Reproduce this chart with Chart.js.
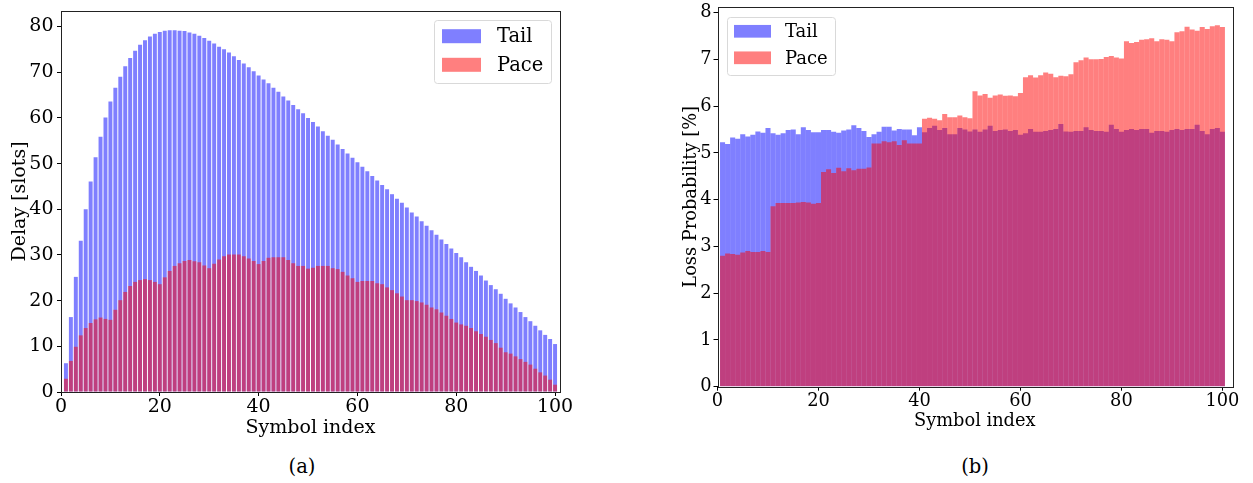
<!DOCTYPE html>
<html>
<head>
<meta charset="utf-8">
<script src="https://cdn.jsdelivr.net/npm/chart.js@4.4.1/dist/chart.umd.min.js"></script>
<style>
  body { margin: 0; background: #fff; width: 1253px; height: 483px; position: relative; overflow: hidden; font-family: "DejaVu Serif", serif; }
  canvas { position: absolute; top: 0; }
  .cap { position: absolute; font-size: 19.5px; transform: translate(-50%, -50%); color: #000; }
</style>
</head>
<body>
<canvas id="delayChart" width="620" height="450" style="left:0"></canvas>
<canvas id="lossChart" width="613" height="450" style="left:640px"></canvas>
<div class="cap" style="left:302px;top:466px">(a)</div>
<div class="cap" style="left:975px;top:466px">(b)</div>
<script>
const seriesNames = ["Tail", "Pace"];
const symbols = [
  1, 2, 3, 4, 5, 6, 7, 8, 9, 10, 11, 12, 13, 14, 15, 16, 17, 18, 19, 20,
  21, 22, 23, 24, 25, 26, 27, 28, 29, 30, 31, 32, 33, 34, 35, 36, 37, 38, 39, 40,
  41, 42, 43, 44, 45, 46, 47, 48, 49, 50, 51, 52, 53, 54, 55, 56, 57, 58, 59, 60,
  61, 62, 63, 64, 65, 66, 67, 68, 69, 70, 71, 72, 73, 74, 75, 76, 77, 78, 79, 80,
  81, 82, 83, 84, 85, 86, 87, 88, 89, 90, 91, 92, 93, 94, 95, 96, 97, 98, 99, 100
];
const xTicks = [0, 20, 40, 60, 80, 100];
const delayTicks = [0, 10, 20, 30, 40, 50, 60, 70, 80];
const lossTicks = [0, 1, 2, 3, 4, 5, 6, 7, 8];

// (a) delay in slots
const delayTail = [
  6.3, 16.4, 25.2, 33.1, 40.0, 46.1, 51.4, 55.9, 60.1, 63.6,
  66.6, 69.0, 71.3, 73.1, 74.7, 76.0, 77.0, 77.8, 78.4, 78.8,
  79.1, 79.2, 79.2, 79.1, 79.0, 78.7, 78.4, 78.0, 77.5, 76.9,
  76.3, 75.6, 75.0, 74.3, 73.5, 72.7, 71.9, 71.1, 70.2, 69.3,
  68.4, 67.6, 66.6, 65.7, 64.7, 63.8, 62.8, 61.9, 61.0, 60.0,
  59.1, 58.1, 57.1, 56.1, 55.2, 54.2, 53.2, 52.2, 51.3, 50.3,
  49.3, 48.3, 47.3, 46.3, 45.3, 44.4, 43.3, 42.3, 41.4, 40.4,
  39.3, 38.4, 37.4, 36.4, 35.4, 34.4, 33.4, 32.4, 31.4, 30.4,
  29.5, 28.4, 27.4, 26.5, 25.5, 24.4, 23.4, 22.5, 21.5, 20.4,
  19.4, 18.5, 17.5, 16.4, 15.5, 14.5, 13.5, 12.5, 11.6, 10.5
];
const delayPace = [
  2.9, 6.8, 9.9, 12.4, 14.0, 15.1, 15.9, 16.3, 16.0, 15.8,
  18.0, 20.1, 21.9, 23.2, 24.1, 24.5, 24.7, 24.5, 24.1, 23.6,
  25.1, 26.5, 27.6, 28.2, 28.7, 28.9, 28.6, 28.4, 27.7, 27.1,
  28.1, 29.0, 29.7, 30.1, 30.1, 30.1, 29.7, 29.2, 28.7, 28.0,
  28.7, 29.4, 29.5, 29.5, 29.5, 28.9, 28.2, 27.6, 27.6, 27.0,
  27.2, 27.6, 27.6, 27.6, 27.1, 26.9, 26.3, 25.5, 24.9, 24.1,
  24.3, 24.3, 24.3, 23.8, 23.6, 22.9, 22.3, 21.6, 20.9, 20.1,
  20.1, 19.9, 19.6, 19.1, 18.5, 18.1, 17.4, 16.7, 16.0, 15.2,
  14.8, 14.5, 14.0, 13.3, 12.7, 12.1, 11.4, 10.7, 9.7, 8.7,
  8.4, 7.8, 7.2, 6.6, 6.0, 5.1, 4.3, 3.6, 2.7, 1.6
];

// (b) loss probability in %
const lossTail = [
  5.23, 5.19, 5.33, 5.30, 5.40, 5.35, 5.39, 5.46, 5.43, 5.53,
  5.42, 5.39, 5.42, 5.49, 5.50, 5.40, 5.55, 5.49, 5.44, 5.44,
  5.49, 5.49, 5.45, 5.43, 5.48, 5.50, 5.59, 5.53, 5.47, 5.34,
  5.40, 5.45, 5.56, 5.56, 5.48, 5.51, 5.50, 5.50, 5.38, 5.55,
  5.44, 5.53, 5.58, 5.49, 5.53, 5.40, 5.40, 5.53, 5.50, 5.46,
  5.50, 5.45, 5.50, 5.58, 5.47, 5.49, 5.50, 5.47, 5.49, 5.39,
  5.42, 5.51, 5.45, 5.45, 5.47, 5.49, 5.51, 5.62, 5.46, 5.45,
  5.47, 5.47, 5.55, 5.49, 5.47, 5.47, 5.45, 5.60, 5.51, 5.45,
  5.49, 5.51, 5.49, 5.51, 5.51, 5.43, 5.47, 5.47, 5.45, 5.49,
  5.51, 5.49, 5.51, 5.51, 5.60, 5.47, 5.40, 5.51, 5.53, 5.45
];
const lossPace = [
  2.80, 2.85, 2.84, 2.82, 2.87, 2.90, 2.88, 2.88, 2.90, 2.88,
  3.86, 3.93, 3.93, 3.93, 3.93, 3.94, 3.95, 3.94, 3.91, 3.93,
  4.59, 4.65, 4.57, 4.68, 4.61, 4.67, 4.63, 4.66, 4.66, 4.69,
  5.20, 5.20, 5.25, 5.23, 5.25, 5.17, 5.27, 5.20, 5.20, 5.20,
  5.73, 5.75, 5.73, 5.70, 5.83, 5.76, 5.76, 5.80, 5.76, 5.74,
  6.32, 6.23, 6.26, 6.18, 6.23, 6.25, 6.22, 6.23, 6.21, 6.28,
  6.62, 6.66, 6.61, 6.66, 6.72, 6.69, 6.62, 6.65, 6.64, 6.68,
  6.94, 6.98, 7.04, 7.00, 7.00, 7.01, 7.05, 7.07, 7.04, 7.02,
  7.39, 7.35, 7.37, 7.42, 7.43, 7.45, 7.39, 7.43, 7.42, 7.39,
  7.58, 7.60, 7.70, 7.64, 7.61, 7.69, 7.65, 7.71, 7.73, 7.69
];

const tailColor = "rgba(0, 0, 255, 0.5)";
const paceColor = "rgba(255, 0, 0, 0.5)";

Chart.defaults.font.family = '"DejaVu Serif", serif';
Chart.defaults.color = "#000";

// box around the axes, like matplotlib spines
const frame = {
  id: "frame",
  afterDatasetsDraw(chart) {
    const { ctx, chartArea: a } = chart;
    ctx.save();
    ctx.strokeStyle = "#222";
    ctx.lineWidth = 1;
    ctx.strokeRect(Math.round(a.left) + 0.5, Math.round(a.top) + 0.5,
      Math.round(a.right - a.left), Math.round(a.bottom - a.top));
    ctx.restore();
  }
};

// legend box drawn inside the plot
const boxLegend = {
  id: "boxLegend",
  afterDraw(chart, args, o) {
    const ctx = chart.ctx;
    ctx.save();
    ctx.beginPath();
    ctx.roundRect(o.x + 0.5, o.y + 0.5, o.w, o.h, 3);
    ctx.fillStyle = "rgba(255,255,255,0.8)";
    ctx.fill();
    ctx.strokeStyle = "#d9d9d9";
    ctx.lineWidth = 1;
    ctx.stroke();
    ctx.font = o.fontSize + 'px "DejaVu Serif"';
    ctx.textBaseline = "middle";
    chart.data.datasets.forEach((ds, i) => {
      const cy = o.rowY + i * o.rowGap;
      ctx.fillStyle = ds.backgroundColor;
      ctx.fillRect(o.patchX, cy - o.patchH / 2, o.patchW, o.patchH);
      ctx.fillStyle = "#000";
      ctx.fillText(ds.label, o.textX, cy + o.textDy);
    });
    ctx.restore();
  }
};

function makeChart(id, tail, pace, c) {
  const font = { size: c.fontSize, family: '"DejaVu Serif", serif' };
  const axisGrid = { display: true, offset: false, drawOnChartArea: false, drawTicks: true, tickLength: 4, color: "#000", lineWidth: 1 };
  return new Chart(document.getElementById(id), {
    type: "bar",
    data: {
      datasets: [
        {
          label: seriesNames[0],
          data: symbols.map((s, i) => ({ x: s, y: tail[i] })),
          backgroundColor: tailColor,
          borderWidth: 0,
          inflateAmount: 0,
          grouped: false,
          order: 1
        },
        {
          label: seriesNames[1],
          data: symbols.map((s, i) => ({ x: s, y: pace[i] })),
          backgroundColor: paceColor,
          borderWidth: 0,
          inflateAmount: 0,
          grouped: false,
          order: 0
        }
      ]
    },
    options: {
      responsive: false,
      animation: false,
      events: [],
      datasets: { bar: { categoryPercentage: 1, barPercentage: c.barWidth } },
      layout: { padding: c.padding },
      plugins: {
        legend: { display: false },
        tooltip: { enabled: false },
        boxLegend: c.legend
      },
      scales: {
        x: {
          type: "linear",
          min: 0,
          max: c.xMax,
          offset: false,
          grid: axisGrid,
          border: { display: false },
          ticks: { font, color: "#000", padding: 0, maxRotation: 0, autoSkip: false },
          title: { display: true, text: "Symbol index", font, color: "#000", padding: 0 },
          afterBuildTicks: s => { s.ticks = xTicks.map(v => ({ value: v })); },
          afterFit: s => { s.height = c.xHeight; s.paddingLeft = 0; s.paddingRight = 0; }
        },
        y: {
          type: "linear",
          min: 0,
          max: c.yMax,
          grid: axisGrid,
          border: { display: false },
          ticks: { font, color: "#000", padding: c.yPad },
          title: { display: true, text: c.yTitle, font, color: "#000", padding: 0 },
          afterBuildTicks: s => { s.ticks = c.yTicks.map(v => ({ value: v })); },
          afterFit: s => { s.width = c.yWidth; s.paddingTop = 0; s.paddingBottom = 0; }
        }
      }
    },
    plugins: [frame, boxLegend]
  });
}

makeChart("delayChart", delayTail, delayPace, {
  fontSize: 19,
  barWidth: 0.8,
  xMax: 101,
  yMax: 83.4,
  yTicks: delayTicks,
  yTitle: "Delay [slots]",
  yPad: 3.5,
  padding: { left: 9, top: 11, right: 60, bottom: 10.6 },
  yWidth: 52,
  xHeight: 47.4,
  legend: { x: 434, y: 20, w: 117, h: 63, patchX: 442, patchW: 39, patchH: 14, textX: 497, rowY: 36.2, rowGap: 28.6, textDy: 1, fontSize: 19.5 }
});

makeChart("lossChart", lossTail, lossPace, {
  fontSize: 17.8,
  barWidth: 1,
  xMax: 101.9,
  yMax: 8.12,
  yTicks: lossTicks,
  yTitle: "Loss Probability [%]",
  yPad: 2,
  padding: { left: 41, top: 7, right: 21, bottom: 18.1 },
  yWidth: 36.5,
  xHeight: 45.2,
  legend: { x: 87, y: 17, w: 108, h: 58, patchX: 94, patchW: 37, patchH: 12.7, textX: 145, rowY: 31.3, rowGap: 26.5, textDy: 1.3, fontSize: 18 }
});
</script>
</body>
</html>
